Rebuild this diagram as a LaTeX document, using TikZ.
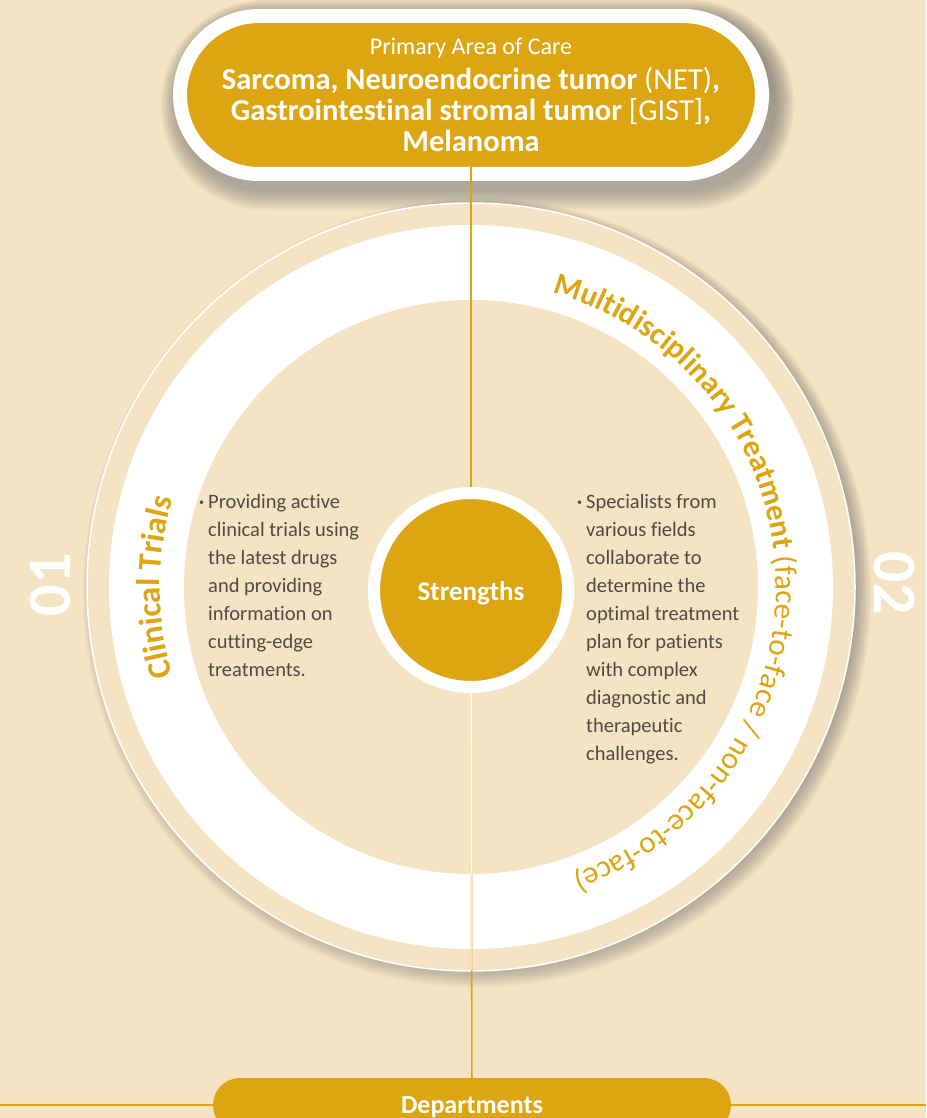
\documentclass[tikz,border=0pt]{standalone}
\usepackage{fontspec}
\setmainfont{Carlito}[Ligatures=NoCommon]
\usepackage{xcolor}
\usetikzlibrary{positioning,decorations.text}

\definecolor{beige}{HTML}{F5E4C3}
\definecolor{gold}{HTML}{DDA511}
\definecolor{inkgray}{HTML}{4F4A44}
\definecolor{shade}{HTML}{5E4A2A}

\begin{document}
\begin{tikzpicture}[
  x=1pt, y=1pt,
  pill/.style={draw=white, fill=gold, rounded corners=#1, text=white,
               align=center, inner sep=0pt},
  link/.style={draw=gold, line width=1.6pt},
  note/.style={anchor=north west, align=left, inner sep=0pt, text=inkgray,
               font=\fontsize{20.5}{28}\selectfont},
  bignum/.style={text=white, font=\bfseries\fontsize{62}{62}\selectfont},
  arctext/.style={decorate, decoration={text along path, text align=center,
               text color=gold, text={#1}}}
]
  % canvas
  \fill[beige] (0,0) rectangle (926,-1118);
  \useasboundingbox (0,0) rectangle (926,-1118);
  \coordinate (c) at (471,-587);

  % soft shadows
  \foreach \k in {0,2,...,18}
    \fill[shade, opacity=0.035, rounded corners=86+\k]
      (179-\k,-18+\k) rectangle (776+\k,-192-\k);
  \foreach \k in {0,2,...,18}
    \fill[shade, opacity=0.035] (477,-593) circle ({376+\k});

  % rings
  \fill[beige] (c) circle (384);
  \draw[white, line width=1.5pt] (c) circle (384);
  \fill[white] (c) circle (362);
  \fill[beige] (c) circle (287);

  % nodes
  \node[pill=79pt, line width=14pt, minimum width=582pt, minimum height=158pt,
        font=\bfseries\fontsize{30.5}{31}\selectfont] (care) at (471,-95)
    {{\mdseries\fontsize{24}{24}\selectfont Primary Area of Care}\\[4pt]
     Sarcoma, Neuroendocrine tumor {\mdseries(NET)},\\
     Gastrointestinal stromal tumor {\mdseries[GIST]},\\
     Melanoma};
  \node[circle, draw=white, line width=12pt, fill=gold, minimum size=194pt,
        text=white, text depth=0pt, font=\bfseries\fontsize{27}{27}\selectfont] (core) at (471,-590)
    {\raisebox{-3pt}{Strengths}};
  \node[pill=27pt, draw=none, minimum width=518pt, minimum height=54pt,
        text depth=0pt, font=\bfseries\fontsize{26}{26}\selectfont] (dept) at (472,-1105)
    {Departments};

  \node[bignum, rotate=90] (one) at (50,-585) {01};
  \node[bignum, rotate=-90] (two) at (895,-583) {02};

  \node[note] (lnote) at (208,-494)
    {\llap{\raisebox{3pt}{\fontsize{10}{10}\selectfont •}\hspace{4pt}}Providing active\\
     clinical trials using\\the latest drugs\\and providing\\information on\\
     cutting-edge\\treatments.};
  \node[note] (rnote) at (586,-494)
    {\llap{\raisebox{3pt}{\fontsize{10}{10}\selectfont •}\hspace{4pt}}Specialists from\\
     various fields\\collaborate to\\determine the\\optimal treatment\\
     plan for patients\\with complex\\diagnostic and\\therapeutic\\challenges.};

  % ring titles
  \path[arctext={|\bfseries\fontsize{33}{33}\selectfont|Clinical Trials}]
    (c) ++(210:311) arc[start angle=210, end angle=150, radius=311];
  \path[arctext={|\bfseries\fontsize{31}{31}\selectfont|Multidisciplinary Treatment
                 |\mdseries\fontsize{31}{31}\selectfont|(face-to-face / non-face-to-face)}]
    (c) ++(86:305) arc[start angle=86, end angle=-82, radius=305];

  % connectors
  \draw[link, shorten <=-14pt] (care) -- (core);
  \draw[link] (core) -- (dept);
  \begin{scope}
    \clip (c) circle (383);
    \draw[link, draw=beige] (core) -- (dept);
  \end{scope}
  \begin{scope}
    \clip (c) circle (287);
    \draw[link, draw=white] (core) -- (dept);
  \end{scope}
  \coordinate (lt) at (0,-1105);
  \coordinate (rt) at (926,-1105);
  \draw[link] (lt) -- (dept.west);
  \draw[link] (dept.east) -- (rt);
\end{tikzpicture}
\end{document}
